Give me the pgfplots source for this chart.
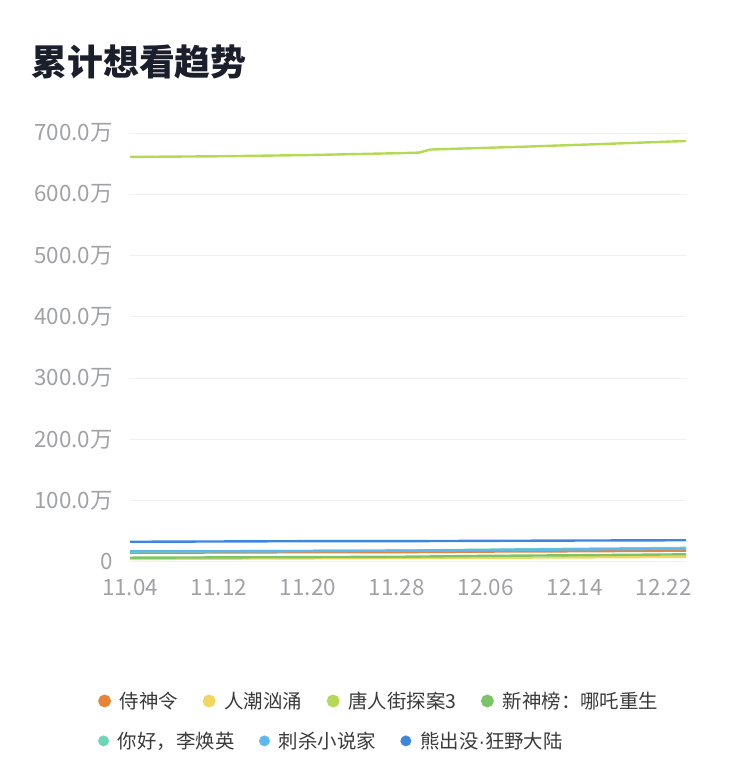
\documentclass[border=0pt]{standalone}
\usepackage{fontspec}
\setmainfont{Noto Sans CJK SC}
\newfontfamily\latinfont{Liberation Sans}
\usepackage{pgfplots}
\pgfplotsset{compat=1.18}

\definecolor{cShi}{HTML}{E8833A}
\definecolor{cRen}{HTML}{F2D75E}
\definecolor{cTang}{HTML}{B3D955}
\definecolor{cXin}{HTML}{7DC467}
\definecolor{cNi}{HTML}{6DD4B4}
\definecolor{cCi}{HTML}{5CB8EE}
\definecolor{cXiong}{HTML}{3D86DE}
\definecolor{ticklab}{HTML}{A0A2A6}
\definecolor{gridc}{HTML}{F0F0F0}
\definecolor{titlec}{HTML}{1B1E2B}
\definecolor{legtext}{HTML}{3A3A3A}

\pgfplotsset{
  dotlegend/.style={
    legend image code/.code={\fill (0bp,0bp) circle (5.2bp);},
    legend style={draw=none, fill=none, inner sep=0pt, anchor=west,
      nodes={inner sep=0pt, text=legtext, font=\fontsize{19.5}{22}\selectfont},
      /tikz/every odd column/.style={column sep=9bp},
      /tikz/every even column/.style={column sep=24.5bp}},
    legend cell align=left,
  },
  frame/.style={
    width=556bp, height=429bp, scale only axis,
    at={(130bp,212bp)}, anchor=south west,
    xmin=0, xmax=50, ymin=0, ymax=700,
  },
}

\begin{document}
\begin{tikzpicture}
\path[use as bounding box] (0,0) rectangle (750bp,774bp);
\node[anchor=west, text=titlec, font=\bfseries\fontsize{36}{40}\selectfont] at (28bp,712bp) {累计想看趋势};

\begin{axis}[
  frame, dotlegend,
  axis line style={draw=none},
  major tick length=0pt,
  ymajorgrids, major grid style={gridc, line width=1bp},
  ytick={0,100,200,300,400,500,600,700},
  yticklabels={0,100.0万,200.0万,300.0万,400.0万,500.0万,600.0万,700.0万},
  xtick={0,8,16,24,32,40,48},
  xticklabels={11.04,11.12,11.20,11.28,12.06,12.14,12.22},
  /pgf/number format/assume math mode=true,
  ticklabel style={text=ticklab, font=\fontsize{22.5}{26}\selectfont},
  yticklabel style={inner sep=0pt, xshift=-17bp},
  xticklabel style={inner sep=0pt, yshift=-17bp},
  legend columns=4,
  legend style={at={(axis description cs:-0.0576,-0.324)}},
  clip=false,
  every axis plot/.append style={line width=2.4bp, mark=none},
]
\addplot[color=cShi] coordinates {(0,15) (8,15.5) (16,16) (24,16) (32,17) (40,17.5) (50,18.5)};
\addlegendentry{侍神令}
\addplot[color=cRen] coordinates {(0,5) (8,5.5) (16,6) (24,6.5) (32,7) (40,7.5) (50,8.5)};
\addlegendentry{人潮汹涌}
\addplot[color=cTang] coordinates {(0,661) (8,662) (16,664) (24,667) (26,668) (27,673) (36,678) (44,683) (50,687)};
\addlegendentry{唐人街探案3}
\addplot[color=cXin] coordinates {(0,7) (8,7.5) (16,8) (24,8.5) (32,10) (40,11) (50,12.5)};
\addlegendentry{新神榜：哪吒重生}
\addplot[color=cNi, forget plot] coordinates {(0,17) (8,17.5) (16,18) (24,18.5) (32,20) (40,21.5) (50,23)};
\addplot[color=cCi, forget plot] coordinates {(0,17.5) (8,17.5) (16,18) (24,18.5) (32,19.5) (40,20.5) (50,21.5)};
\addplot[color=cXiong, forget plot] coordinates {(0,33) (8,33.5) (16,34) (24,34) (32,34.5) (40,35) (50,35.5)};
\end{axis}

\begin{axis}[
  frame, dotlegend, hide axis,
  legend columns=3,
  legend style={at={(axis description cs:-0.0576,-0.417)}},
]
\addlegendimage{color=cNi}
\addlegendentry{你好，李焕英}
\addlegendimage{color=cCi}
\addlegendentry{刺杀小说家}
\addlegendimage{color=cXiong}
\addlegendentry{熊出没{\latinfont ·}狂野大陆}
\end{axis}
\end{tikzpicture}
\end{document}
